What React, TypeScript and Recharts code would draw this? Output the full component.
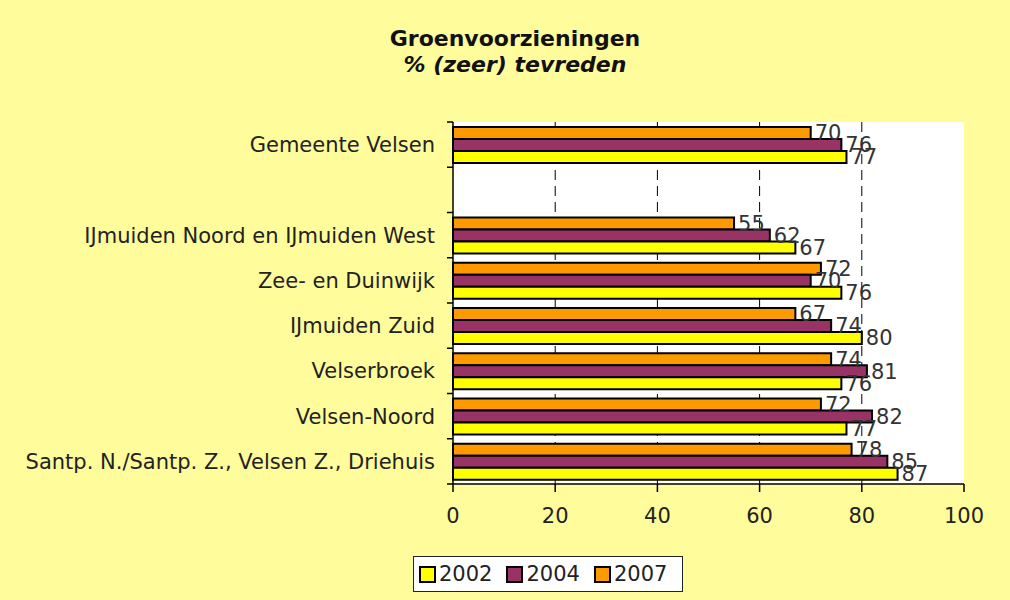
import React from 'react'
import { BarChart, Bar, XAxis, YAxis, CartesianGrid, LabelList, Legend } from 'recharts'

const CATEGORIES = [
  'Gemeente Velsen',
  '',
  'IJmuiden Noord en IJmuiden West',
  'Zee- en Duinwijk',
  'IJmuiden Zuid',
  'Velserbroek',
  'Velsen-Noord',
  'Santp. N./Santp. Z., Velsen Z., Driehuis',
]
const Y2002 = [77, null, 67, 76, 80, 76, 77, 87]
const Y2004 = [76, null, 62, 70, 74, 81, 82, 85]
const Y2007 = [70, null, 55, 72, 67, 74, 72, 78]
const LEGEND_ORDER = ['2002', '2004', '2007']
const X_TICKS = [0, 20, 40, 60, 80, 100]
const GRID_VALUES = [20, 40, 60, 80]

const BG = '#FFFC9B'
const FONT = '"DejaVu Sans", Verdana, sans-serif'
const CAT_MARGIN = 18

const data = CATEGORIES.map((name, i) => ({
  name,
  y2002: Y2002[i],
  y2004: Y2004[i],
  y2007: Y2007[i],
}))

const labelFmt = (v: any) => (v == null ? '' : String(v))

// category label plus a small tick mark on the band boundaries
function CatTick(props: any) {
  const { x, y, payload, index } = props
  const half = payload?.offset ?? 0
  const ax = x + CAT_MARGIN
  return (
    <g>
      <text x={x} y={y} dy="0.355em" textAnchor="end" fill="#222" fontSize={21} fontFamily={FONT}>
        {payload.value}
      </text>
      {half > 0 && <line x1={ax - 6} x2={ax} y1={y - half} y2={y - half} stroke="#000" strokeWidth={1.5} />}
      {half > 0 && index === CATEGORIES.length - 1 && (
        <line x1={ax - 6} x2={ax} y1={y + half} y2={y + half} stroke="#000" strokeWidth={1.5} />
      )}
    </g>
  )
}

function LegendBox(props: any) {
  const items = [...(props.payload ?? [])].sort(
    (a: any, b: any) => LEGEND_ORDER.indexOf(String(a.value)) - LEGEND_ORDER.indexOf(String(b.value))
  )
  return (
    <div
      style={{
        border: '1px solid #222',
        background: '#fff',
        display: 'flex',
        alignItems: 'center',
        height: 36,
        padding: '0 0 0 5px',
        boxSizing: 'border-box',
        fontFamily: FONT,
        fontSize: 21,
        color: '#222',
      }}
    >
      {items.map((it: any) => (
        <div key={it.value} style={{ display: 'flex', alignItems: 'center', marginRight: 14 }}>
          <span
            style={{
              display: 'inline-block',
              width: 13,
              height: 13,
              background: it.color,
              border: '2px solid #000',
              marginRight: 3,
            }}
          />
          <span>{it.value}</span>
        </div>
      ))}
    </div>
  )
}

export default function App() {
  return (
    <div
      style={{
        position: 'absolute',
        left: 0,
        top: 0,
        width: 1010,
        height: 600,
        background: BG,
        fontFamily: FONT,
      }}
    >
      <div
        style={{
          position: 'absolute',
          left: 0,
          top: 26,
          width: 1030,
          textAlign: 'center',
          fontSize: 22,
          lineHeight: '26px',
          fontWeight: 'bold',
          color: '#111',
        }}
      >
        <div>Groenvoorzieningen</div>
        <div style={{ fontStyle: 'italic' }}>% (zeer) tevreden</div>
      </div>
      <div style={{ position: 'absolute', left: 0, top: 0 }}>
        <BarChart
          width={1010}
          height={600}
          data={data}
          layout="vertical"
          margin={{ top: 122, right: 46, bottom: 0, left: 0 }}
          barCategoryGap="11%"
          barGap={0}
        >
          <CartesianGrid
            xAxisId={0}
            yAxisId="cat"
            horizontal={false}
            verticalValues={GRID_VALUES}
            stroke="#000"
            strokeDasharray="10 6"
            fill="#fff"
            fillOpacity={1}
          />
          <XAxis
            type="number"
            domain={[0, 100]}
            ticks={X_TICKS}
            height={116}
            tickSize={8}
            tickMargin={16}
            axisLine={{ stroke: '#000', strokeWidth: 1.5 }}
            tickLine={{ stroke: '#000', strokeWidth: 1.5 }}
            tick={{ fill: '#222', fontSize: 21, fontFamily: FONT }}
            interval={0}
          />
          <XAxis
            xAxisId="top"
            orientation="top"
            type="number"
            domain={[0, 100]}
            height={0}
            tick={false}
            tickLine={false}
            axisLine={{ stroke: '#999' }}
          />
          <YAxis
            yAxisId="cat"
            type="category"
            dataKey="name"
            width={453}
            tickSize={0}
            tickMargin={CAT_MARGIN}
            tickLine={false}
            axisLine={{ stroke: '#000', strokeWidth: 1.5 }}
            tick={<CatTick />}
            interval={0}
          />
          <YAxis
            yAxisId="right"
            orientation="right"
            type="number"
            domain={[0, 8]}
            width={0}
            tick={false}
            tickLine={false}
            axisLine={{ stroke: '#999' }}
          />
          <Legend
            layout="horizontal"
            verticalAlign="middle"
            align="center"
            wrapperStyle={{ left: 413, top: 556, width: 270, height: 36 }}
            content={<LegendBox />}
          />
          <Bar yAxisId="cat" dataKey="y2007" name="2007" fill="#FF9900" stroke="#000" strokeWidth={2} isAnimationActive={false}>
            <LabelList dataKey="y2007" position="right" offset={4} fill="#333" fontSize={21} fontFamily={FONT} formatter={labelFmt} />
          </Bar>
          <Bar yAxisId="cat" dataKey="y2004" name="2004" fill="#993366" stroke="#000" strokeWidth={2} isAnimationActive={false}>
            <LabelList dataKey="y2004" position="right" offset={4} fill="#333" fontSize={21} fontFamily={FONT} formatter={labelFmt} />
          </Bar>
          <Bar yAxisId="cat" dataKey="y2002" name="2002" fill="#FFFF00" stroke="#000" strokeWidth={2} isAnimationActive={false}>
            <LabelList dataKey="y2002" position="right" offset={4} fill="#333" fontSize={21} fontFamily={FONT} formatter={labelFmt} />
          </Bar>
        </BarChart>
      </div>
    </div>
  )
}
